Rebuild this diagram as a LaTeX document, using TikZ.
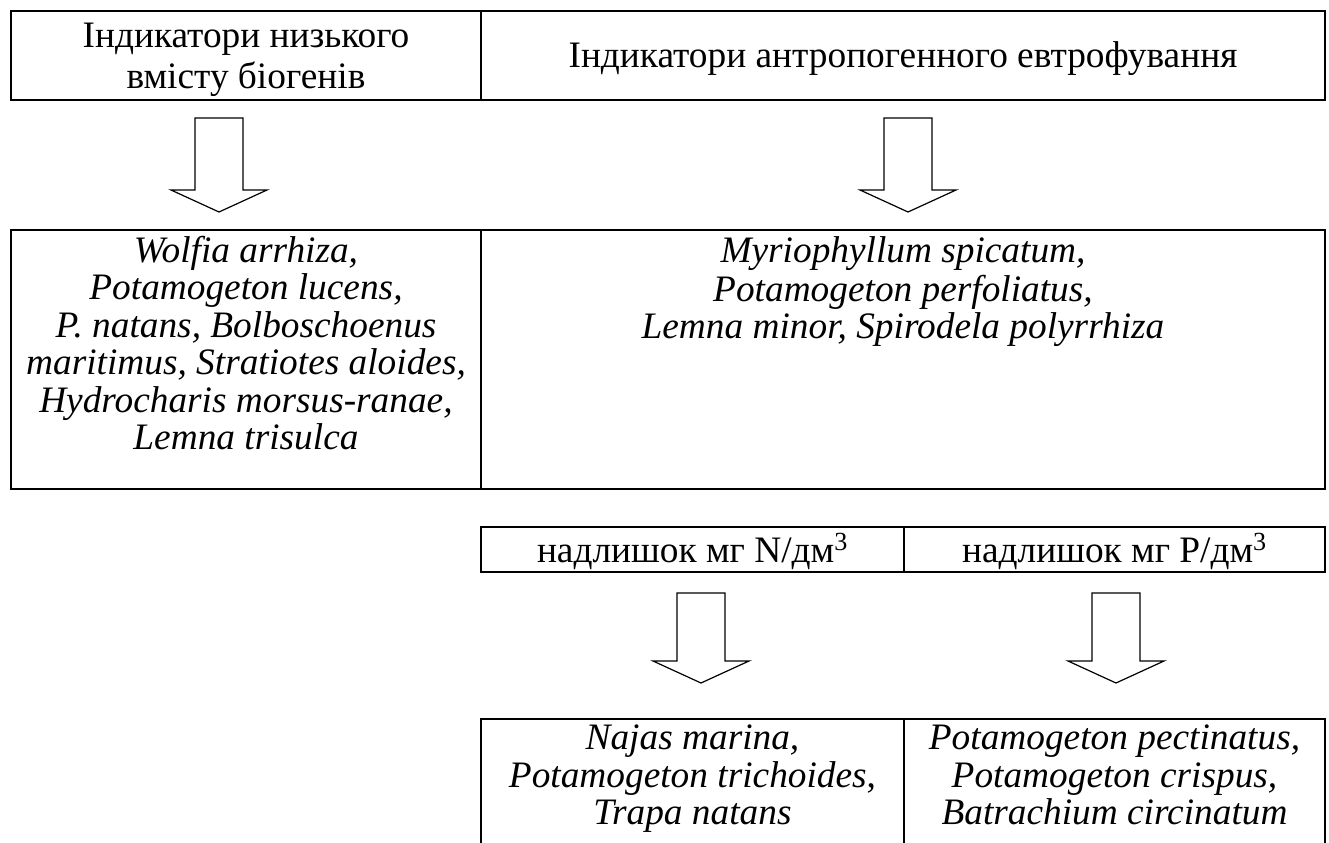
\documentclass[tikz,border=0pt]{standalone}
\usepackage{fontspec}
\setmainfont{Liberation Serif}
\begin{document}
\begin{tikzpicture}[x=0.75pt,y=-0.75pt,
  cell/.style={draw,line width=1.5pt,inner sep=0pt,anchor=north west,align=center,
    font=\fontsize{28}{28.1}\selectfont},
  txt/.style={inner sep=0pt,anchor=north,align=center,font=\fontsize{28}{28.1}\selectfont\itshape},
  arrowline/.style={draw,line width=0.9pt,line join=miter,fill=white},
  pics/blockarrow/.style={code={
    \path[arrowline] (-24,0) -- (24,0) -- (24,#1) -- (48,#1) -- (0,#1+22)
      -- (-48,#1) -- (-24,#1) -- cycle;}}
]
\clip (0,0) rectangle (1329,843);
\fill[white] (0,0) rectangle (1329,843);
% row 1
\node[cell,minimum width=352.5pt,minimum height=66.75pt] (r1l) at (10,10) {};
\node[cell,minimum width=633pt,minimum height=66.75pt] (r1r) at (480,10) {};
\node[inner sep=0pt,align=center,font=\fontsize{28}{30.5}\selectfont]
  (t1l) at ([yshift=-3pt]r1l.center) {Індикатори низького\\вмісту біогенів};
\node[inner sep=0pt,align=center,font=\fontsize{28}{28.1}\selectfont]
  (t1r) at ([yshift=-2.5pt]r1r.center) {Індикатори антропогенного евтрофування};
% row 2
\node[cell,minimum width=352.5pt,minimum height=194.25pt] (r2l) at (10,229) {};
\node[cell,minimum width=633pt,minimum height=194.25pt] (r2r) at (480,229) {};
\node[txt] (t2l) at ([yshift=-5pt]r2l.north) {\strut Wolfia arrhiza,\\Potamogeton lucens,\\P. natans, Bolboschoenus\\maritimus, Stratiotes aloides,\\Hydrocharis morsus-ranae,\\Lemna trisulca};
\node[txt] (t2r) at ([yshift=-5pt]r2r.north) {\strut Myriophyllum spicatum,\\Potamogeton perfoliatus,\\Lemna minor, Spirodela polyrrhiza};
% row 3
\node[cell,minimum width=317.25pt,minimum height=33.75pt] (r3l) at (480,526) {};
\node[cell,minimum width=315.75pt,minimum height=33.75pt] (r3r) at (903,526) {};
\node[inner sep=0pt,font=\fontsize{28}{28.1}\selectfont] (t3l) at ([yshift=-1.5pt]r3l.center) {надлишок мг N/дм\textsuperscript{3}};
\node[inner sep=0pt,font=\fontsize{28}{28.1}\selectfont] (t3r) at ([yshift=-1.5pt]r3r.center) {надлишок мг P/дм\textsuperscript{3}};
% row 4
\node[cell,minimum width=317.25pt,minimum height=120pt] (r4l) at (480,718) {};
\node[cell,minimum width=315.75pt,minimum height=120pt] (r4r) at (903,718) {};
\node[txt] (t4l) at ([yshift=-4pt]r4l.north) {\strut Najas marina,\\Potamogeton trichoides\upshape,\\Trapa natans};
\node[txt] (t4r) at ([yshift=-4pt]r4r.north) {\strut Potamogeton pectinatus,\\Potamogeton crispus,\\Batrachium circinatum};
% arrows
\coordinate (a1) at (219,118);
\coordinate (a2) at (908,118);
\coordinate (a3) at (701,593);
\coordinate (a4) at (1116,593);
\pic at (a1) {blockarrow=72};
\pic at (a2) {blockarrow=72};
\pic at (a3) {blockarrow=68};
\pic at (a4) {blockarrow=68};
\end{tikzpicture}
\end{document}
